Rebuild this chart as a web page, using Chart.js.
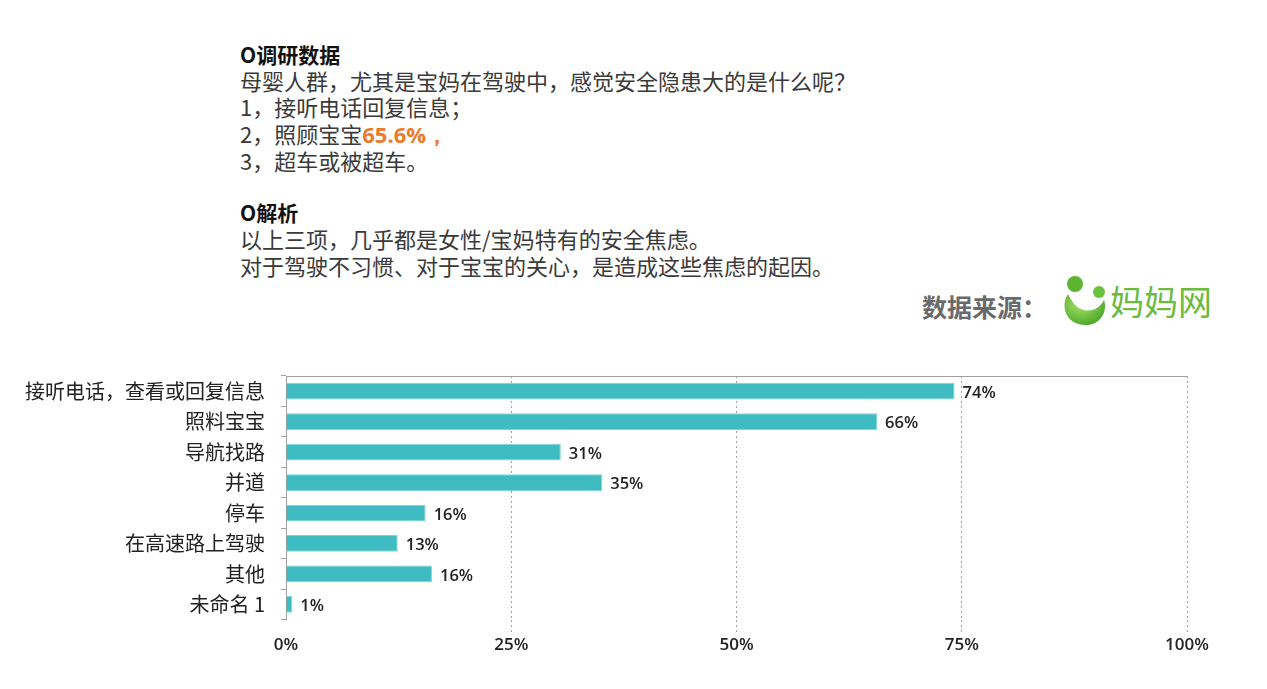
<!DOCTYPE html>
<html>
<head>
<meta charset="utf-8">
<script src="https://cdn.jsdelivr.net/npm/chart.js@4.4.1/dist/chart.umd.min.js"></script>
<style>
  body { margin: 0; background: #fff; width: 1267px; height: 689px; overflow: hidden; position: relative; font-family: "Noto Sans CJK SC", sans-serif; }
  #intro { position: absolute; left: 240px; top: 41px; font-size: 22px; line-height: 26.2px; color: #3a3a3a; }
  #intro .head { font-weight: bold; color: #111; font-size: 21px; }
  #intro .hl { color: #ec7a2a; font-weight: bold; font-family: "Open Sans", sans-serif; }
  #source { position: absolute; left: 922px; top: 288px; font-size: 25px; font-weight: bold; color: #6a6a6a; }
  #logo { position: absolute; left: 1058px; top: 272px; }
  #brand { position: absolute; left: 1110px; top: 281px; font-size: 34px; color: #6cbb3f; line-height: 40px; }
  #wrap { position: absolute; left: 0; top: 348px; width: 1267px; height: 309px; }
</style>
</head>
<body>
<div id="intro">
  <div class="head">O调研数据</div>
  <div>母婴人群，尤其是宝妈在驾驶中，感觉安全隐患大的是什么呢？</div>
  <div>1，接听电话回复信息；</div>
  <div>2，照顾宝宝<span class="hl">65.6%，</span></div>
  <div>3，超车或被超车。</div>
  <div>&nbsp;</div>
  <div class="head">O解析</div>
  <div>以上三项，几乎都是女性/宝妈特有的安全焦虑。</div>
  <div>对于驾驶不习惯、对于宝宝的关心，是造成这些焦虑的起因。</div>
</div>
<div id="source">数据来源：</div>
<svg id="logo" width="52" height="56" viewBox="0 0 52 56">
  <defs>
    <radialGradient id="g" cx="0.4" cy="0.35" r="0.7">
      <stop offset="0" stop-color="#a6e06a"/>
      <stop offset="1" stop-color="#4aa526"/>
    </radialGradient>
  </defs>
  <path d="M10 22 C2 34 8 52 26 53 C42 54 50 40 46 28 C42 36 34 40 26 38 C18 36 14 30 10 22 Z" fill="url(#g)"/>
  <circle cx="17" cy="12" r="8" fill="#5cb432"/>
  <circle cx="41" cy="20" r="6" fill="#6cc23e"/>
</svg>
<div id="brand">妈妈网</div>
<div id="wrap"><canvas id="chart"></canvas></div>
<script>
const categories = ['接听电话，查看或回复信息', '照料宝宝', '导航找路', '并道', '停车', '在高速路上驾驶', '其他', '未命名 1'];
const values = [74.2, 65.6, 30.5, 35.1, 15.5, 12.4, 16.2, 0.7];
const valueLabels = ['74%', '66%', '31%', '35%', '16%', '13%', '16%', '1%'];
const xTicks = [0, 25, 50, 75, 100];

// draws the value text at the end of each bar and the top frame line
const barText = {
  id: 'barText',
  afterDatasetsDraw(chart) {
    const ctx = chart.ctx;
    const area = chart.chartArea;
    ctx.save();
    ctx.strokeStyle = '#a0a0a0';
    ctx.lineWidth = 1;
    ctx.beginPath();
    ctx.moveTo(area.left, area.top + 0.5);
    ctx.lineTo(area.right, area.top + 0.5);
    ctx.stroke();
    ctx.font = '600 16.5px "Open Sans", sans-serif';
    ctx.fillStyle = '#222';
    ctx.textAlign = 'left';
    ctx.textBaseline = 'middle';
    chart.getDatasetMeta(0).data.forEach((bar, i) => {
      ctx.fillText(valueLabels[i], bar.x + 8, bar.y + 2);
    });
    ctx.restore();
  }
};

new Chart(document.getElementById('chart'), {
  type: 'bar',
  data: {
    labels: categories,
    datasets: [{
      data: values,
      backgroundColor: '#3ebcc1',
      borderColor: '#7fd6d9',
      borderWidth: 1,
      barPercentage: 0.55,
      categoryPercentage: 1
    }]
  },
  plugins: [barText],
  options: {
    indexAxis: 'y',
    responsive: true,
    maintainAspectRatio: false,
    animation: false,
    layout: { padding: { top: 4, right: 80, bottom: 0, left: 0 } },
    plugins: { legend: { display: false }, tooltip: { enabled: false } },
    scales: {
      x: {
        min: 0,
        max: 100,
        afterBuildTicks: (scale) => { scale.ticks = xTicks.map(v => ({ value: v })); },
        border: { display: false, dash: [2, 3] },
        grid: {
          color: (c) => c.tick && c.tick.value === 0 ? 'rgba(0,0,0,0)' : '#a0a0a0',
          tickBorderDash: [2, 3],
          tickLength: 13
        },
        ticks: {
          padding: 2,
          color: '#222',
          font: { family: 'Open Sans', size: 17, weight: '600' },
          callback: (v) => v + '%'
        }
      },
      y: {
        afterFit: (scale) => { scale.width = 286; },
        border: { display: true, color: '#a0a0a0' },
        grid: { drawOnChartArea: false, tickLength: 5, color: '#a0a0a0', offset: true },
        ticks: {
          padding: 16,
          color: '#222',
          font: { family: 'Noto Sans CJK SC', size: 20 }
        }
      }
    }
  }
});
</script>
</body>
</html>
